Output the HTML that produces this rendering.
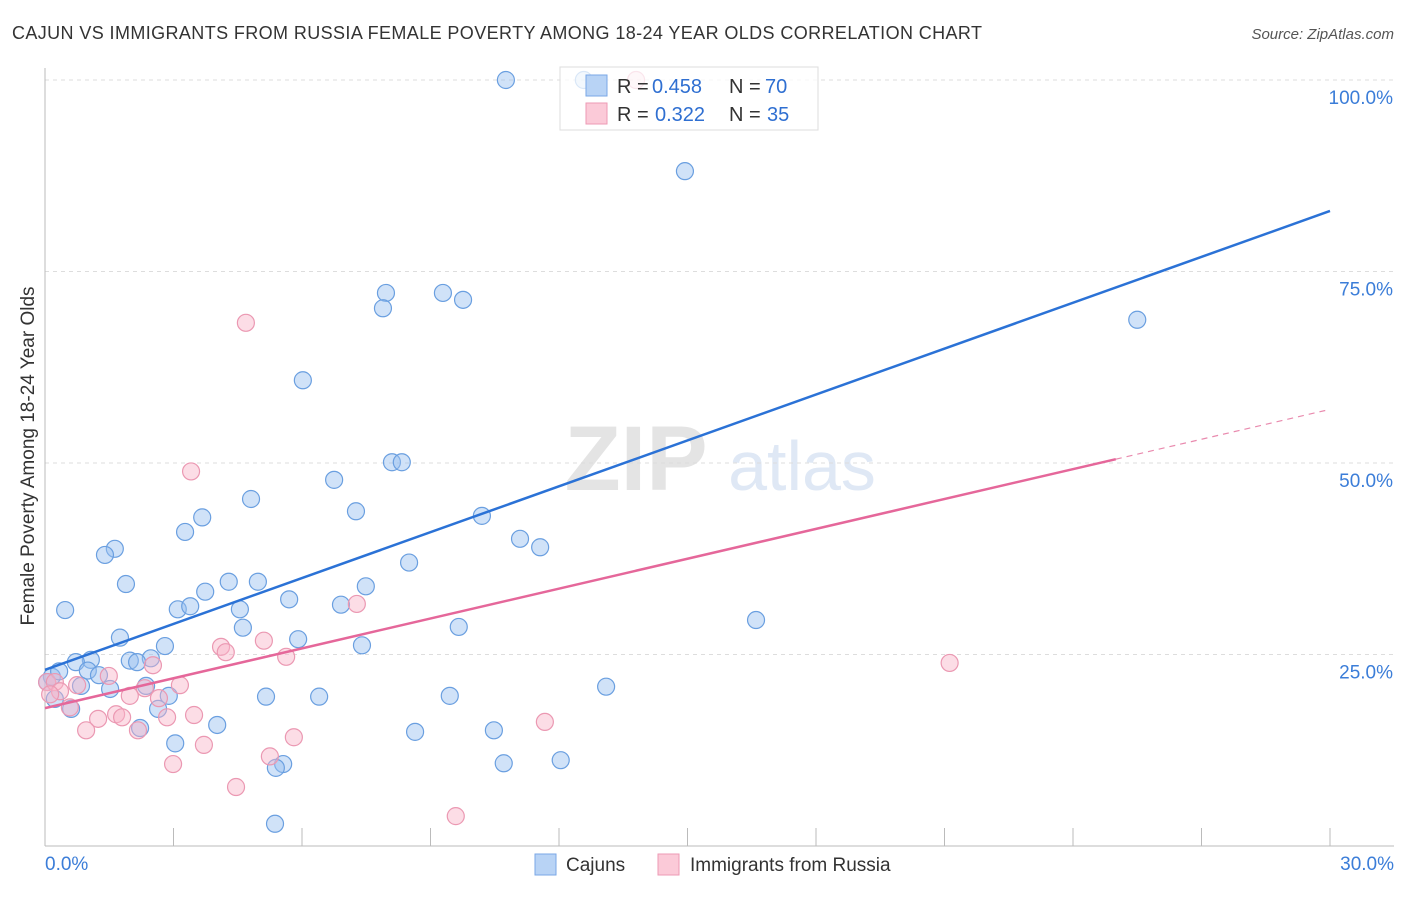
<!DOCTYPE html>
<html><head><meta charset="utf-8"><style>
body{margin:0;background:#fff;font-family:"Liberation Sans",sans-serif;}
svg text{font-family:"Liberation Sans",sans-serif;}
</style></head><body>
<svg id="chart" width="1406" height="892" xmlns="http://www.w3.org/2000/svg">
<text x="12" y="39" font-size="18" fill="#333" textLength="970">CAJUN VS IMMIGRANTS FROM RUSSIA FEMALE POVERTY AMONG 18-24 YEAR OLDS CORRELATION CHART</text>
<text x="1394" y="39" font-size="15" fill="#555" font-style="italic" text-anchor="end">Source: ZipAtlas.com</text>
<text x="34" y="456" font-size="19" fill="#333" text-anchor="middle" transform="rotate(-90 34 456)">Female Poverty Among 18-24 Year Olds</text>
<g><text x="636" y="490" font-size="92" fill="#e4e4e4" font-family="Liberation Serif" text-anchor="middle" font-weight="bold">ZIP</text><text x="802" y="490" font-size="70" fill="#dfe8f5" text-anchor="middle">atlas</text></g>
<g id="grid"></g><g id="axes"></g><g id="pts"></g><g id="lines"></g>
<g>
<rect x="560" y="67" width="258" height="63" fill="rgba(255,255,255,0.75)" stroke="#ddd"/>
<rect x="586" y="75" width="21" height="21" fill="#b8d3f5" stroke="#7aa7e6"/>
<text y="93" font-size="20" fill="#333"><tspan x="617">R =</tspan><tspan x="652" fill="#2f6fd1">0.458</tspan><tspan x="729">N =</tspan><tspan x="765" fill="#2f6fd1">70</tspan></text>
<rect x="586" y="103" width="21" height="21" fill="#fbcad8" stroke="#ee9ab4"/>
<text y="121" font-size="20" fill="#333"><tspan x="617">R =</tspan><tspan x="655" fill="#2f6fd1">0.322</tspan><tspan x="729">N =</tspan><tspan x="767" fill="#2f6fd1">35</tspan></text>
</g>
<g>
<rect x="535" y="854" width="21" height="21" fill="#b8d3f5" stroke="#7aa7e6"/>
<text x="566" y="871" font-size="19" fill="#333">Cajuns</text>
<rect x="658" y="854" width="21" height="21" fill="#fbcad8" stroke="#ee9ab4"/>
<text x="690" y="871" font-size="19" fill="#333">Immigrants from Russia</text>
</g>
</svg>
<script>
const cajunX=[10.76,12.58,14.94,25.5,7.96,9.29,7.89,9.76,6.02,8.1,8.33,6.75,4.81,7.26,3.67,10.2,3.27,11.09,11.56,1.63,1.4,8.5,1.89,4.29,4.97,7.49,3.74,5.7,3.1,3.39,6.91,4.55,0.47,4.62,9.66,16.6,1.75,5.91,7.4,2.8,1.07,0.72,2.47,1.98,2.15,0.16,0.33,1.0,1.26,0.05,0.84,2.36,1.52,13.1,2.89,5.16,6.4,0.23,0.61,2.64,9.45,4.02,8.64,10.48,2.22,3.04,5.56,5.39,10.71,12.04,5.37];
const cajunY=[100,100,88.1,68.7,72.2,72.2,70.2,71.3,60.8,50.1,50.1,47.8,45.3,43.7,42.9,43.1,41.0,40.1,39.0,38.8,38.0,37.0,34.2,34.5,34.5,33.9,33.2,32.2,30.9,31.3,31.5,30.9,30.8,28.5,28.6,29.5,27.2,27.0,26.2,26.1,24.3,24.0,24.5,24.2,24.0,22.1,22.8,22.9,22.3,21.4,20.9,20.9,20.5,20.8,19.6,19.5,19.5,19.2,17.9,17.9,19.6,15.8,14.9,15.1,15.4,13.4,10.7,10.2,10.8,11.2,2.9];
const russiaX=[13.8,4.69,3.41,7.28,5.11,4.11,4.22,5.63,2.52,1.49,21.12,0.05,0.23,3.15,0.75,2.33,0.35,1.98,2.66,0.58,1.66,1.24,1.8,2.85,3.48,11.67,0.96,2.17,5.81,3.71,5.25,2.99,4.46,9.59,0.12];
const russiaY=[100,68.3,48.9,31.6,26.8,26.0,25.3,24.7,23.6,22.2,23.9,21.4,21.4,21.0,21.0,20.6,20.2,19.6,19.3,18.1,17.2,16.6,16.8,16.8,17.1,16.2,15.1,15.1,14.2,13.2,11.7,10.7,7.7,3.9,19.8];
const blueFit=[23.0,82.9], pinkFit=[18.0,57.0], pinkSolidEnd=25.0;
const xTicks=[0,3,6,9,12,15,18,21,24,27,30];
const yTicks=[25,50,75,100];
const yLabels=["25.0%","50.0%","75.0%","100.0%"];
const NS="http://www.w3.org/2000/svg";
const X=v=>45+v/30*1285, Y=v=>846-v/100*766;
function mk(p,t,a){const e=document.createElementNS(NS,t);for(const k in a)e.setAttribute(k,a[k]);p.appendChild(e);return e;}
const grid=document.getElementById('grid'),axes=document.getElementById('axes'),pts=document.getElementById('pts'),lines=document.getElementById('lines');
yTicks.forEach((t,i)=>{
 const l=mk(grid,'line',{x1:45,x2:1394,y1:Y(t),y2:Y(t),stroke:'#ddd','stroke-dasharray':'4,4'});
 
 
 const tx=mk(axes,'text',{x:1393,y:Y(t)+24,'font-size':19,fill:'#3b7dd8','text-anchor':'end'});tx.textContent=yLabels[i];
 
 
});
const ax=mk(axes,'line',{x1:45,x2:1394,y1:846,y2:846,stroke:'#bbb'});


const ay=mk(axes,'line',{x1:45,x2:45,y1:68,y2:846,stroke:'#bbb'});


xTicks.forEach(t=>{
 const l=mk(axes,'line',{x1:X(t),x2:X(t),y1:828,y2:846,stroke:'#bbb'});
 
 
});
[[0,"0.0%","start",45],[30,"30.0%","end",1394]].forEach(d=>{
 const tx=mk(axes,'text',{x:d[3],y:870,'font-size':19,fill:'#3b7dd8','text-anchor':d[2]});tx.textContent=d[1];
 
 
});
cajunX.forEach((v,i)=>{
 const c=mk(pts,'circle',{cx:X(v),cy:Y(cajunY[i]),r:8.5,fill:'rgba(150,190,240,0.45)',stroke:'#6a9fe0','stroke-width':1.2});
 
 
});
russiaX.forEach((v,i)=>{
 const c=mk(pts,'circle',{cx:X(v),cy:Y(russiaY[i]),r:8.5,fill:'rgba(248,180,200,0.45)',stroke:'#eb98b2','stroke-width':1.2});
 
 
});
const f=(fit,x)=>fit[0]+(fit[1]-fit[0])*x/30;
const b=mk(lines,'line',{x1:X(0),y1:Y(f(blueFit,0)),x2:X(30),y2:Y(f(blueFit,30)),stroke:'#2b72d6','stroke-width':2.5});


const p=mk(lines,'line',{x1:X(0),y1:Y(f(pinkFit,0)),x2:X(pinkSolidEnd),y2:Y(f(pinkFit,pinkSolidEnd)),stroke:'#e5679a','stroke-width':2.5});


const pd=mk(lines,'line',{x1:X(pinkSolidEnd),y1:Y(f(pinkFit,pinkSolidEnd)),x2:X(30),y2:Y(f(pinkFit,30)),stroke:'#e98aae','stroke-width':1.2,'stroke-dasharray':'6,5'});


</script>
</body></html>
